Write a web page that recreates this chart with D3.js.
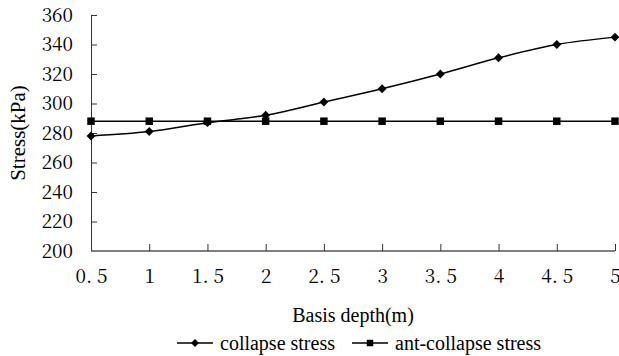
<!DOCTYPE html>
<html>
<head>
<meta charset="utf-8">
<script src="https://cdn.jsdelivr.net/npm/d3@7"></script>
<style>
  body { margin: 0; background: #fff; }
</style>
</head>
<body>
<div id="chart"></div>
<script>
// data
var depths = [0.5, 1, 1.5, 2, 2.5, 3, 3.5, 4, 4.5, 5];
var depthLabels = ["0. 5", "1", "1. 5", "2", "2. 5", "3", "3. 5", "4", "4. 5", "5"];
var collapseStress = [278, 281, 287, 292, 301, 310, 320, 331, 340, 345];
var antCollapseStress = [288, 288, 288, 288, 288, 288, 288, 288, 288, 288];
var yTicks = [200, 220, 240, 260, 280, 300, 320, 340, 360];

const TICKFONT = "'Noto Serif CJK SC', 'Liberation Serif', serif";
const LABELFONT = "'Liberation Serif', serif";
const W = 619, H = 356;
const margin = { top: 15, right: 4, bottom: 105, left: 91 },
    width = W - margin.left - margin.right,
    height = H - margin.top - margin.bottom;

var svg = d3.select("#chart").append("svg")
    .attr("width", W)
    .attr("height", H);

var g = svg.append("g")
    .attr("transform", "translate(" + margin.left + "," + margin.top + ")");

// Scales
const x = d3.scalePoint().domain(depths).range([0, width]),
    y = d3.scaleLinear().domain([200, 360]).range([height, 0]);

// y axis, ticks pointing inwards
var yAxis = g.append("g")
    .call(d3.axisLeft(y).tickValues(yTicks).tickSize(-6).tickPadding(18));
yAxis.attr("font-family", TICKFONT).attr("font-size", 19);
yAxis.select(".domain").attr("stroke", "#333").attr("d", "M0.5,0V" + height);
yAxis.selectAll(".tick line").attr("stroke", "#333");
yAxis.selectAll("text").attr("fill", "#000");

// x axis
var xAxis = g.append("g")
    .attr("transform", "translate(0," + height + ")")
    .call(d3.axisBottom(x).tickSize(-7).tickPadding(19)
        .tickFormat(function(d, i) { return depthLabels[i]; }));
xAxis.attr("font-family", TICKFONT).attr("font-size", 19);
xAxis.select(".domain").attr("stroke", "#808080").attr("stroke-width", 2)
    .attr("d", "M0,0H" + width);
xAxis.selectAll(".tick line").attr("stroke", "#333");
xAxis.selectAll("text").attr("fill", "#000");

// Labels
g.append("text")
    .attr("text-anchor", "middle")
    .attr("font-family", LABELFONT)
    .attr("font-size", 21)
    .attr("transform", "translate(" + (-73) + "," + (height / 2) + ")rotate(-90)")
    .attr("dy", "0.35em")
    .text("Stress(kPa)");

g.append("text")
    .attr("text-anchor", "middle")
    .attr("font-family", LABELFONT)
    .attr("font-size", 20)
    .attr("x", width / 2)
    .attr("y", height + 71)
    .text("Basis depth(m)");

// Lines
var lineC = d3.line()
    .x(function(d, i) { return x(depths[i]); })
    .y(function(d) { return y(d); })
    .curve(d3.curveCatmullRom.alpha(0));
var lineA = d3.line()
    .x(function(d, i) { return x(depths[i]); })
    .y(function(d) { return y(d); });

g.append("path").datum(antCollapseStress)
    .attr("fill", "none").attr("stroke", "#000").attr("stroke-width", 1.5)
    .attr("d", lineA);
g.append("path").datum(collapseStress)
    .attr("fill", "none").attr("stroke", "#000").attr("stroke-width", 1.5)
    .attr("d", lineC);

var diamond = d3.symbol().type(d3.symbolDiamond2).size(50);
var square = d3.symbol().type(d3.symbolSquare).size(56);

g.selectAll(".sq").data(antCollapseStress).enter().append("path")
    .attr("class", "sq")
    .attr("d", square)
    .attr("transform", function(d, i) { return "translate(" + x(depths[i]) + "," + y(d) + ")"; });
g.selectAll(".dm").data(collapseStress).enter().append("path")
    .attr("class", "dm")
    .attr("d", diamond)
    .attr("transform", function(d, i) { return "translate(" + x(depths[i]) + "," + y(d) + ")"; });

// Legend
var legend = svg.append("g").attr("transform", "translate(0,343)");
var items = [
    { name: "collapse stress", sym: d3.symbol().type(d3.symbolDiamond2).size(40), x0: 177 },
    { name: "ant-collapse stress", sym: d3.symbol().type(d3.symbolSquare).size(42), x0: 352 }
];
items.forEach(function(it) {
    legend.append("line")
        .attr("x1", it.x0).attr("x2", it.x0 + 36)
        .attr("stroke", "#000").attr("stroke-width", 1.5);
    legend.append("path")
        .attr("d", it.sym())
        .attr("transform", "translate(" + (it.x0 + 18) + ",0)");
    legend.append("text")
        .attr("x", it.x0 + 43)
        .attr("dy", "0.35em")
        .attr("font-family", LABELFONT)
        .attr("font-size", 20)
        .text(it.name);
});
</script>
</body>
</html>
